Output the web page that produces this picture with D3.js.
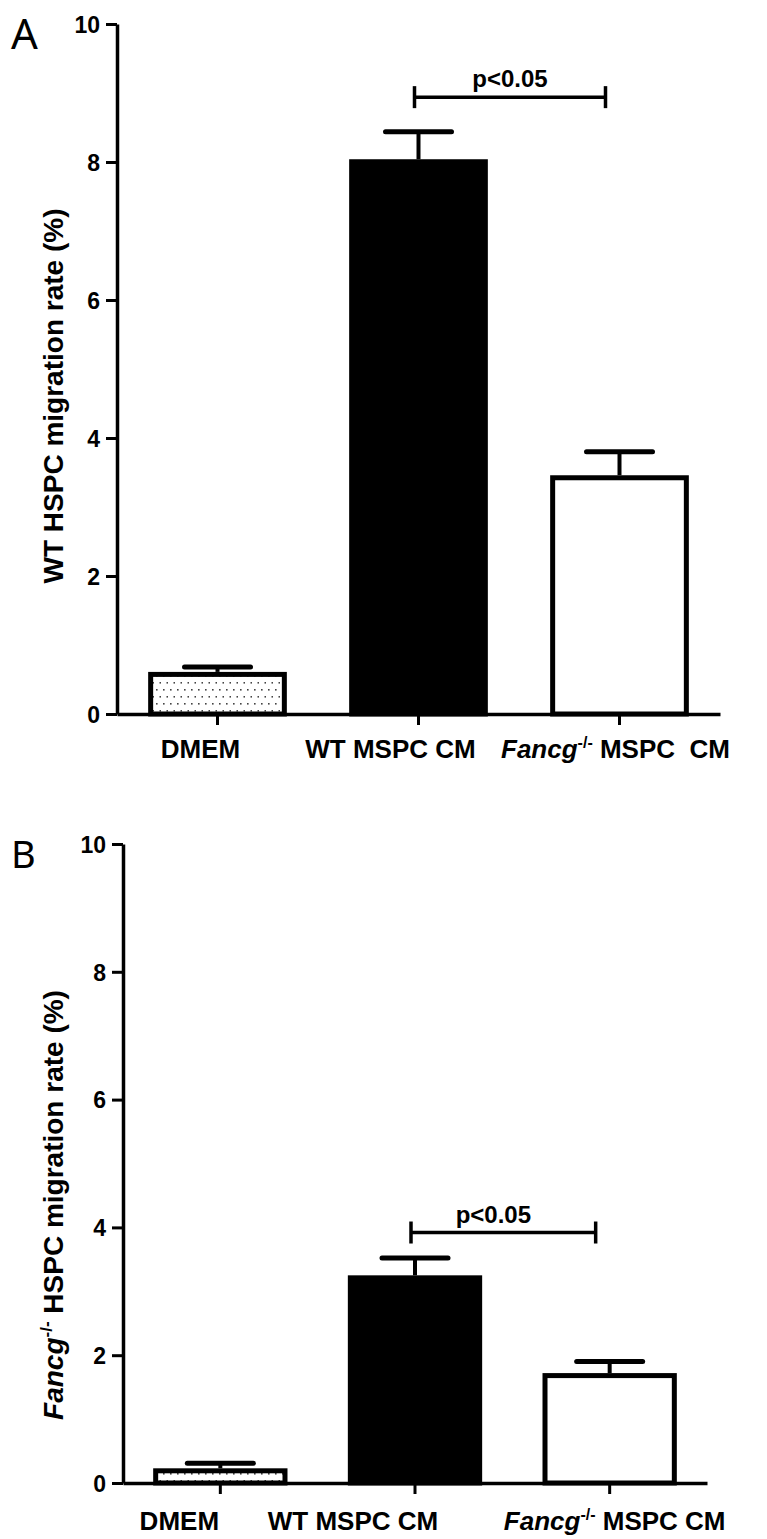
<!DOCTYPE html>
<html>
<head>
<meta charset="utf-8">
<script src="https://cdn.jsdelivr.net/npm/d3@7"></script>
<style>
  body { margin: 0; background: #fff; }
  svg text { font-family: "Liberation Sans", Arial, sans-serif; font-weight: bold; fill: #000; white-space: pre; }
</style>
</head>
<body>
<div id="chart"></div>
<script>
// categories and values
var categories = ["DMEM", "WT MSPC CM", "Fancg MSPC CM"];
var yTicks = [0, 2, 4, 6, 8, 10];

var meansA = [0.61, 8.04, 3.46];
var semA = [0.07, 0.40, 0.34];
var meansB = [0.23, 3.25, 1.72];
var semB = [0.08, 0.27, 0.18];

var sigA = 8.94;
var sigB = 3.92;
var sigText = "p<0.05";

// panel layouts
var panels = [
  { letter: "A", letterSize: 42, letterX: 11, letterY: 49,
    left: 117, right: 720, top: 24, bottom: 714,
    means: meansA, sem: semA, sig: sigA,
    title: "WT", titleY: 396, labelY: 758,
    labelDx: [-17, -28, -4], fancgSpace: "  ", sigDx: 0 },
  { letter: "B", letterSize: 38, letterX: 11, letterY: 868,
    left: 123, right: 707, top: 844, bottom: 1483,
    means: meansB, sem: semB, sig: sigB,
    title: "Fancg", titleY: 1205, labelY: 1530,
    labelDx: [-41, -62, 5], fancgSpace: " ", sigDx: -10 }
];

var svg = d3.select("#chart").append("svg")
  .attr("width", 767)
  .attr("height", 1539);

// dotted fill for the DMEM bars
var defs = svg.append("defs");
var pat = defs.append("pattern")
  .attr("id", "dots")
  .attr("patternUnits", "userSpaceOnUse")
  .attr("width", 7)
  .attr("height", 14);
pat.append("rect").attr("width", 7).attr("height", 14).attr("fill", "#fff");
pat.append("rect").attr("x", 2).attr("y", 3).attr("width", 1.6).attr("height", 1.6).attr("fill", "#444");
pat.append("rect").attr("x", 5.5).attr("y", 10).attr("width", 1.6).attr("height", 1.6).attr("fill", "#444");

var fills = ["url(#dots)", "#000", "#fff"];

panels.forEach(function(p) {
  var g = svg.append("g");

  var x = d3.scaleBand()
    .domain(categories)
    .range([p.left, p.right])
    .paddingInner(0.31)
    .paddingOuter(0.155);

  var y = d3.scaleLinear()
    .domain([0, 10])
    .range([p.bottom, p.top]);

  // panel letter
  g.append("text")
    .attr("x", p.letterX)
    .attr("y", p.letterY)
    .style("font-family", "'Noto Sans', 'DejaVu Sans', sans-serif")
    .style("font-weight", "normal")
    .style("font-size", p.letterSize + "px")
    .text(p.letter);

  // bars
  var bw = x.bandwidth();
  g.selectAll(".bar")
    .data(categories)
    .enter()
    .append("rect")
    .attr("class", "bar")
    .attr("x", d => x(d) + 2.5)
    .attr("width", bw - 5)
    .attr("y", (d, i) => y(p.means[i]) + 2.5)
    .attr("height", (d, i) => y(0) - y(p.means[i]) - 2.5)
    .attr("fill", (d, i) => fills[i])
    .attr("stroke", "#000")
    .attr("stroke-width", 5);

  // error bars (upper only)
  var cx = d => x(d) + bw / 2;
  g.selectAll(".stem")
    .data(categories)
    .enter()
    .append("line")
    .attr("x1", cx).attr("x2", cx)
    .attr("y1", (d, i) => y(p.means[i]))
    .attr("y2", (d, i) => y(p.means[i] + p.sem[i]))
    .attr("stroke", "#000")
    .attr("stroke-width", 4);
  g.selectAll(".cap")
    .data(categories)
    .enter()
    .append("line")
    .attr("x1", d => cx(d) - 33).attr("x2", d => cx(d) + 33)
    .attr("y1", (d, i) => y(p.means[i] + p.sem[i]))
    .attr("y2", (d, i) => y(p.means[i] + p.sem[i]))
    .attr("stroke", "#000")
    .attr("stroke-width", 5)
    .attr("stroke-linecap", "round");

  // y axis
  var yAxis = g.append("g")
    .attr("transform", `translate(${p.left}, 0)`)
    .call(d3.axisLeft(y).tickValues(yTicks).tickSize(11).tickPadding(6).tickSizeOuter(0));
  yAxis.select(".domain").attr("stroke-width", 3.5);
  yAxis.selectAll(".tick line").attr("stroke-width", 3);
  yAxis.selectAll(".tick text")
    .style("font-size", "23px")
    .attr("dy", "0.36em");

  // x axis
  var xAxis = g.append("g")
    .attr("transform", `translate(0, ${p.bottom})`)
    .call(d3.axisBottom(x).tickSize(11).tickSizeOuter(0).tickFormat(""));
  xAxis.select(".domain").attr("stroke-width", 3.5);
  xAxis.selectAll(".tick line").attr("stroke-width", 3);

  // x labels
  categories.forEach(function(c, i) {
    var t = g.append("text")
      .attr("x", cx(c) + p.labelDx[i])
      .attr("y", p.labelY)
      .attr("text-anchor", "middle")
      .style("font-size", "26px");
    if (i === 2) {
      t.append("tspan").style("font-style", "italic").text("Fancg");
      t.append("tspan").attr("dy", -10).style("font-size", "16px").text("-/-");
      t.append("tspan").attr("dy", 10).text(" MSPC" + p.fancgSpace + "CM");
    } else {
      t.text(c);
    }
  });

  // y title
  var yt = g.append("text")
    .attr("transform", `translate(63, ${p.titleY}) rotate(-90)`)
    .attr("text-anchor", "middle")
    .style("font-size", "28px");
  if (p.title === "Fancg") {
    yt.append("tspan").style("font-style", "italic").text("Fancg");
    yt.append("tspan").attr("dy", -11).style("font-size", "17px").text("-/-");
    yt.append("tspan").attr("dy", 11).text(" HSPC migration rate (%)");
  } else {
    yt.text("WT HSPC migration rate (%)");
  }

  // significance bracket
  var x1 = cx(categories[1]) - 4;
  var x2 = cx(categories[2]) - 14;
  var sy = y(p.sig);
  g.append("line")
    .attr("x1", x1).attr("x2", x2).attr("y1", sy).attr("y2", sy)
    .attr("stroke", "#000").attr("stroke-width", 3.5);
  [x1, x2].forEach(function(xx) {
    g.append("line")
      .attr("x1", xx).attr("x2", xx).attr("y1", sy - 11).attr("y2", sy + 11)
      .attr("stroke", "#000").attr("stroke-width", 3.5);
  });
  g.append("text")
    .attr("x", (x1 + x2) / 2 + p.sigDx)
    .attr("y", sy - 10)
    .attr("text-anchor", "middle")
    .style("font-size", "24px")
    .text(sigText);
});
</script>
</body>
</html>
